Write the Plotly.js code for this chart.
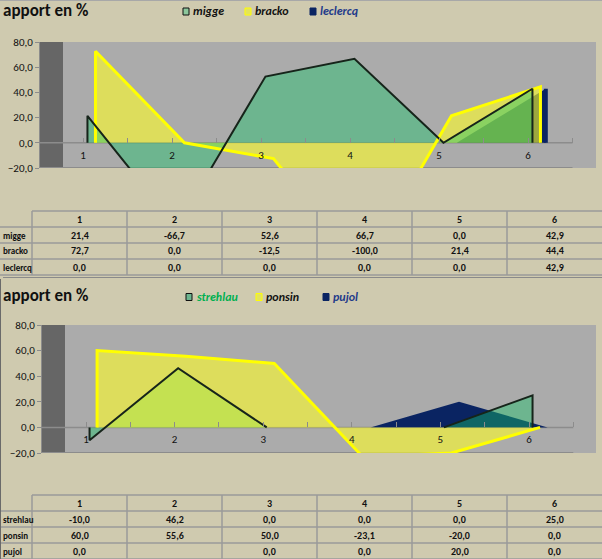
<!DOCTYPE html>
<html><head><meta charset="utf-8">
<script src="https://cdn.plot.ly/plotly-3.0.1.min.js"></script>
<style>html,body{margin:0;padding:0;background:#CFCAAF;}#chart{width:602px;height:559px;}</style>
</head><body><div id="chart"></div>
<script>
// ---------- data ----------
const categories = [1, 2, 3, 4, 5, 6];
const tickLabels = ['1', '2', '3', '4', '5', '6'];
const chartTitle = 'apport en %';

const names1 = ['migge', 'bracko', 'leclercq'];
const migge    = [21.4, -66.7, 52.6, 66.7, 0.0, 42.9];
const bracko   = [72.7, 0.0, -12.5, -100.0, 21.4, 44.4];
const leclercq = [0.0, 0.0, 0.0, 0.0, 0.0, 42.9];

const names2 = ['strehlau', 'ponsin', 'pujol'];
const strehlau = [-10.0, 46.2, 0.0, 0.0, 0.0, 25.0];
const ponsin   = [60.0, 55.6, 50.0, -23.1, -20.0, 0.0];
const pujol    = [0.0, null, 0.0, 0.0, 20.0, 0.0];

const yRange = [-20, 80];

// ---------- helpers ----------
const W = 602, H = 559;
const fx = p => p / W, fy = p => 1 - p / H;
const fmt = v => v == null ? '' : v.toFixed(1).replace('.', ',');
const FONT = 'Carlito, Lato, "Open Sans", sans-serif';

const GREEN_FILL = 'rgba(24,196,105,0.42)';
const YELLOW_FILL = 'rgba(255,255,40,0.6)';
const NAVY = '#0A2462';

const traces = [];
const shapes = [];
const annotations = [];
const layout = {
  width: W, height: H, margin: {l: 0, r: 0, t: 0, b: 0},
  paper_bgcolor: '#CFCAAF', plot_bgcolor: '#ABABAB',
  separators: ', ', showlegend: false, hovermode: false,
  font: {family: FONT, color: '#111'},
  shapes: shapes, annotations: annotations
};

function points(vals, dx) {
  const last = categories[categories.length - 1];
  const pts = [[categories[0] + dx, 0]];
  categories.forEach((c, i) => pts.push([c + dx, vals[i] == null ? 0 : vals[i]]));
  pts.push([last + dx, 0]);
  return pts;
}
function fillPath(vals, dx) {
  const pts = points(vals, dx);
  return {xs: pts.map(p => p[0]), ys: pts.map(p => p[1])};
}
// outline without the segments that lie flat on the zero line
function linePath(vals, dx) {
  const pts = points(vals, dx);
  const xs = [], ys = [];
  let prevKept = false;
  for (let k = 0; k < pts.length - 1; k++) {
    const a = pts[k], b = pts[k + 1];
    const keep = !(a[1] === 0 && b[1] === 0);
    if (keep) {
      if (!prevKept) {
        if (xs.length) { xs.push(null); ys.push(null); }
        xs.push(a[0]); ys.push(a[1]);
      }
      xs.push(b[0]); ys.push(b[1]);
    }
    prevKept = keep;
  }
  return {xs, ys};
}

function buildChart(c) {
  const xn = c.xn, yn = c.yn;
  const x0 = 1 - (c.cat1 - c.left) / c.step;
  const x1 = x0 + (c.right - c.left) / c.step;
  const yd = [fy(c.bottom), fy(c.top)];
  const zeroPos = yd[0] + (yd[1] - yd[0]) * (0 - yRange[0]) / (yRange[1] - yRange[0]);
  const sx = xn === 'x' ? '' : xn.slice(1);
  layout['xaxis' + sx] = {
    domain: [fx(c.left), fx(c.right)], range: [x0, x1], anchor: 'free', position: zeroPos,
    tickmode: 'array', tickvals: categories, ticktext: tickLabels,
    ticks: 'inside', ticklen: 5, tickcolor: '#8C8C8C', tickwidth: 1,
    minor: {dtick: 0.5, tick0: 0.5, ticks: 'inside', ticklen: 5, tickcolor: '#8C8C8C', tickwidth: 1},
    showline: false, showgrid: false, zeroline: false,
    tickfont: {size: 11, color: '#111', family: FONT}, ticklabelstandoff: 4, fixedrange: true
  };
  layout['yaxis' + sx] = {
    domain: yd, range: yRange, anchor: xn, dtick: 20, tick0: 0, tickformat: '.1f',
    ticks: 'outside', ticklen: 4, tickcolor: '#8C8C8C', showline: true, linecolor: '#8C8C8C', linewidth: 1,
    showgrid: false, zeroline: false, tickfont: {size: 11, color: '#111', family: FONT}, fixedrange: true
  };
  // dark side wall, zero line, floor edge
  shapes.push({type: 'rect', xref: xn, yref: yn, x0: x0, x1: x0 + 23 / c.step, y0: yRange[0], y1: yRange[1],
    fillcolor: '#666666', line: {width: 0}, layer: 'below'});
  shapes.push({type: 'line', xref: xn, yref: yn, x0: x0, x1: categories[categories.length - 1] + 0.5, y0: 0, y1: 0,
    line: {color: '#8C8C8C', width: 1.5}, layer: 'below'});
  shapes.push({type: 'line', xref: xn, yref: yn, x0: x0, x1: categories[categories.length - 1] + 0.5, y0: yRange[0], y1: yRange[0],
    line: {color: '#8C8C8C', width: 2}, layer: 'below'});

  // fills in depth order
  c.order.forEach(i => {
    const p = fillPath(c.series[i], c.offsets[i]);
    traces.push({type: 'scatter', mode: 'lines', x: p.xs, y: p.ys, xaxis: xn, yaxis: yn,
      fill: 'tozeroy', fillcolor: c.fills[i], line: {width: 0, color: c.fills[i]}, hoverinfo: 'skip'});
  });
  // outlines / edges
  c.order.forEach(i => {
    const st = c.lines[i];
    if (st) {
      const p = linePath(c.series[i], c.offsets[i]);
      traces.push({type: 'scatter', mode: 'lines', x: p.xs, y: p.ys, xaxis: xn, yaxis: yn,
        line: st, connectgaps: false, hoverinfo: 'skip'});
    } else {
      const vals = c.series[i];
      const n = vals.length;
      [[0, vals[0]], [n - 1, vals[n - 1]]].forEach(([k, v]) => {
        if (v) traces.push({type: 'scatter', mode: 'lines', x: [categories[k] + c.offsets[i], categories[k] + c.offsets[i]],
          y: [0, v], xaxis: xn, yaxis: yn, line: {color: NAVY, width: 4}, hoverinfo: 'skip'});
      });
    }
  });

  // title
  annotations.push({xref: 'paper', yref: 'paper', x: fx(1), y: fy(c.titleY), xanchor: 'left', yanchor: 'middle',
    text: '<b>' + chartTitle + '</b>', showarrow: false, font: {size: 17, color: '#111', family: FONT}});
  // legend
  c.names.forEach((nm, i) => {
    const bx = c.legendX[i];
    shapes.push({type: 'rect', xref: 'paper', yref: 'paper', x0: fx(bx), x1: fx(bx + 6), y0: fy(c.legendY + 3.5), y1: fy(c.legendY - 3.5),
      fillcolor: c.legendBox[i], line: {color: c.legendBorder[i], width: 1}});
    annotations.push({xref: 'paper', yref: 'paper', x: fx(bx + 8), y: fy(c.legendY), xanchor: 'left', yanchor: 'middle',
      text: '<b><i>' + nm + '</i></b>', showarrow: false, font: {size: 12, color: c.legendText[i], family: FONT}});
  });

  // data table
  const colEdges = [0, 32, 127, 222, 317, 412, 507, 602];
  const rowH = 16, top = c.tableTop, nRows = c.names.length + 1;
  const lc = '#9A9A9A';
  for (let k = 0; k <= nRows; k++) {
    shapes.push({type: 'line', xref: 'paper', yref: 'paper', x0: fx(k === 0 ? colEdges[1] : colEdges[0]), x1: fx(W),
      y0: fy(top + k * rowH), y1: fy(top + k * rowH), line: {color: lc, width: 1.5}});
  }
  for (let j = 1; j < colEdges.length - 1; j++) {
    shapes.push({type: 'line', xref: 'paper', yref: 'paper', x0: fx(colEdges[j]), x1: fx(colEdges[j]),
      y0: fy(top), y1: fy(top + nRows * rowH), line: {color: lc, width: 1.5}});
  }
  categories.forEach((cat, j) => {
    const cx = (colEdges[j + 1] + colEdges[j + 2]) / 2;
    annotations.push({xref: 'paper', yref: 'paper', x: fx(cx), y: fy(top + rowH / 2), xanchor: 'center', yanchor: 'middle',
      text: '<b>' + tickLabels[j] + '</b>', showarrow: false, font: {size: 10, color: '#111', family: FONT}});
  });
  c.names.forEach((nm, i) => {
    const cy = top + (i + 1) * rowH + rowH / 2;
    annotations.push({xref: 'paper', yref: 'paper', x: fx(1), y: fy(cy), xanchor: 'left', yanchor: 'middle',
      text: '<b>' + nm + '</b>', showarrow: false, font: {size: 9, color: '#111', family: FONT}});
    c.series[i].forEach((v, j) => {
      const cx = (colEdges[j + 1] + colEdges[j + 2]) / 2;
      annotations.push({xref: 'paper', yref: 'paper', x: fx(cx), y: fy(cy), xanchor: 'center', yanchor: 'middle',
        text: '<b>' + fmt(v) + '</b>', showarrow: false, font: {size: 10, color: '#111', family: FONT}});
    });
  });
}

buildChart({
  xn: 'x', yn: 'y', left: 40, right: 596, top: 42, bottom: 168, cat1: 83, step: 89,
  series: [migge, bracko, leclercq], names: names1,
  offsets: [0.05, 0.14, 0.2], order: [2, 1, 0],
  fills: [GREEN_FILL, YELLOW_FILL, NAVY],
  lines: [{color: '#16241A', width: 2}, {color: '#FFFF00', width: 3}, null],
  titleY: 10.5, legendY: 11.5, legendX: [183, 245, 310],
  legendBox: ['#8CC79C', '#E4E45A', NAVY], legendBorder: ['#111', '#FFFF00', NAVY],
  legendText: ['#111', '#111', '#1F3A8A'],
  tableTop: 211
});
buildChart({
  xn: 'x2', yn: 'y2', left: 42, right: 596, top: 325, bottom: 453, cat1: 86, step: 88.6,
  series: [strehlau, ponsin, pujol], names: names2,
  offsets: [0.04, 0.125, 0.21], order: [2, 0, 1],
  fills: [GREEN_FILL, YELLOW_FILL, NAVY],
  lines: [{color: '#16241A', width: 2}, {color: '#FFFF00', width: 3}, null],
  titleY: 295, legendY: 297, legendX: [186, 256, 323],
  legendBox: ['#6DB58F', '#E4E45A', NAVY], legendBorder: ['#111', '#FFFF00', NAVY],
  legendText: ['#00B050', '#111', '#1F3A8A'],
  tableTop: 495
});

// frame lines
shapes.push({type: 'line', xref: 'paper', yref: 'paper', x0: 0, x1: 1, y0: fy(0.5), y1: fy(0.5), line: {color: '#A8A8A8', width: 1}});
shapes.push({type: 'line', xref: 'paper', yref: 'paper', x0: fx(3), x1: 1, y0: fy(277.5), y1: fy(277.5), line: {color: '#8A8A8A', width: 1}});
shapes.push({type: 'line', xref: 'paper', yref: 'paper', x0: fx(0.5), x1: fx(0.5), y0: fy(279), y1: 0, line: {color: '#6A6A6A', width: 1}});

Plotly.newPlot('chart', traces, layout, {staticPlot: true, displayModeBar: false});
</script>
</body></html>
